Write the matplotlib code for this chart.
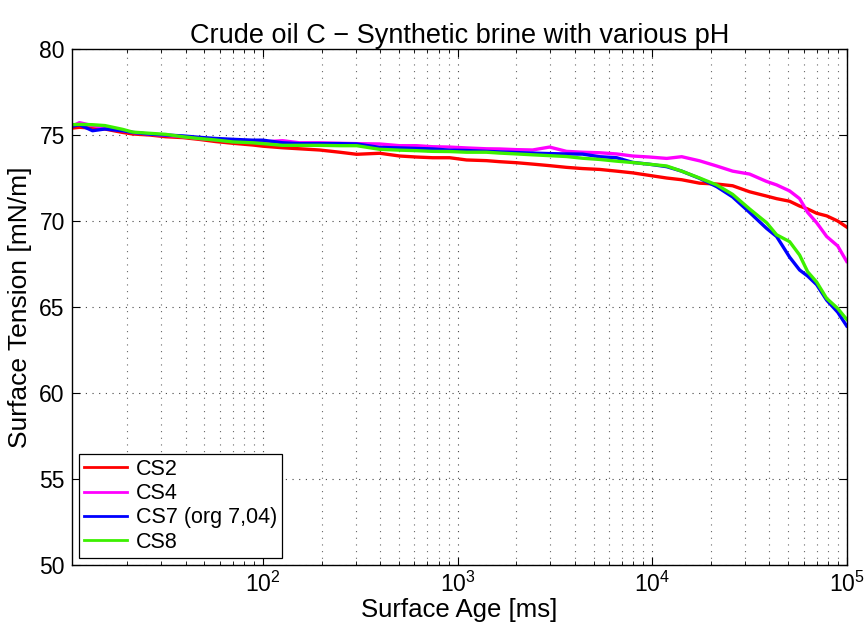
import matplotlib
matplotlib.use("Agg")
import matplotlib.pyplot as plt
from matplotlib.ticker import LogLocator, NullFormatter, FixedLocator
from matplotlib.lines import Line2D

age = [10.4, 11.4, 13.3, 15.4, 19.0, 21.4, 26.2, 31.6, 38.7, 46.7, 57.1, 69.9, 88.5, 100,
       126, 154, 195, 248, 303, 398, 504, 617, 745, 911, 1112, 1409, 1644, 2010, 2430,
       2970, 3630, 4390, 5370, 6570, 7940, 9710, 11880, 14190, 17540, 21460, 25930,
       31700, 38760, 43630, 50900, 57300, 63000, 70100, 78900, 89900, 100000]

cs2 = [75.4, 75.45, 75.4, 75.35, 75.15, 75.06, 75.0, 74.9, 74.85, 74.75, 74.62, 74.52, 74.42,
       74.35, 74.26, 74.2, 74.13, 74.0, 73.88, 73.94, 73.78, 73.72, 73.68, 73.68, 73.55, 73.51,
       73.45, 73.39, 73.31, 73.22, 73.12, 73.05, 73.0, 72.9, 72.8, 72.65, 72.5, 72.4, 72.2,
       72.15, 72.05, 71.7, 71.45, 71.3, 71.15, 70.87, 70.7, 70.45, 70.3, 70.0, 69.65]

cs4 = [75.5, 75.72, 75.55, 75.4, 75.25, 75.15, 75.05, 74.98, 74.9, 74.8, 74.72, 74.62, 74.6,
       74.6, 74.67, 74.55, 74.55, 74.52, 74.5, 74.48, 74.38, 74.38, 74.32, 74.3, 74.25, 74.2,
       74.19, 74.15, 74.13, 74.3, 74.05, 74.0, 73.97, 73.9, 73.78, 73.72, 73.64, 73.74, 73.5,
       73.2, 72.9, 72.73, 72.3, 72.1, 71.75, 71.3, 70.5, 69.9, 69.1, 68.55, 67.65]

cs7 = [75.5, 75.6, 75.25, 75.35, 75.25, 75.15, 75.05, 75.0, 74.95, 74.87, 74.8, 74.75, 74.7,
       74.7, 74.55, 74.5, 74.5, 74.5, 74.48, 74.28, 74.25, 74.22, 74.19, 74.12, 74.1, 74.05,
       74.02, 73.98, 73.95, 73.92, 73.9, 73.89, 73.74, 73.68, 73.41, 73.3, 73.16, 72.9, 72.48,
       72.0, 71.4, 70.5, 69.57, 69.1, 67.9, 67.15, 66.8, 66.3, 65.4, 64.7, 63.9]

cs8 = [75.6, 75.62, 75.6, 75.55, 75.33, 75.17, 75.1, 75.04, 74.9, 74.8, 74.71, 74.6, 74.55,
       74.5, 74.4, 74.4, 74.4, 74.38, 74.38, 74.17, 74.12, 74.09, 74.05, 74.04, 74.0, 74.0,
       73.95, 73.9, 73.85, 73.8, 73.75, 73.65, 73.58, 73.48, 73.4, 73.3, 73.2, 72.9, 72.5,
       72.1, 71.55, 70.7, 69.9, 69.2, 68.8, 68.02, 67.05, 66.45, 65.5, 64.92, 64.28]

labels = ["CS2", "CS4", "CS7 (org 7,04)", "CS8"]
colors = ["#ff0000", "#ff00ff", "#0000ff", "#3cf000"]
series = [cs2, cs4, cs7, cs8]

plt.rcParams['font.family'] = ['Liberation Sans', 'DejaVu Sans']

fig = plt.figure(figsize=(8.66, 6.31), dpi=100)
ax = fig.add_axes([0.0828, 0.1046, 0.8949, 0.8177])

for vals, c in zip(series, colors):
    ax.plot(age, vals, color=c, linewidth=2.4, solid_joinstyle='round')

ax.set_xscale('log')
ax.set_xlim(10.4, 1e5)
ax.set_ylim(50, 80)
ax.set_yticks([50, 55, 60, 65, 70, 75, 80])
ax.xaxis.set_major_locator(FixedLocator([1e2, 1e3, 1e4, 1e5]))
ax.xaxis.set_minor_locator(LogLocator(base=10, subs=range(2, 10), numticks=20))
ax.xaxis.set_minor_formatter(NullFormatter())

ax.grid(True, which='major', color='#444444', linestyle=(0, (1, 5)), linewidth=0.8)
ax.grid(True, which='minor', axis='x', color='#666666', linestyle=(0, (1, 5)), linewidth=0.8)

ax.tick_params(which='both', direction='in', top=True, right=True, labelsize=16.5)
ax.tick_params(which='major', length=6, width=0.8)
ax.tick_params(which='minor', length=3, width=0.6)
ax.tick_params(axis='x', which='major', pad=5)
ax.tick_params(axis='y', which='major', pad=5)
for s in ax.spines.values():
    s.set_linewidth(1.0)

ax.set_title("Crude oil C \u2212 Synthetic brine with various pH", fontsize=19.5, pad=3)
ax.set_xlabel("Surface Age [ms]", fontsize=18.5, labelpad=0.5)
ax.set_ylabel("Surface Tension [mN/m]", fontsize=19, labelpad=5)

handles = [Line2D([0], [0], color=c, linewidth=2.0) for c in colors]
leg = ax.legend(handles, labels, loc='lower left', bbox_to_anchor=(0.009, 0.0136),
                prop={'size': 15.5}, frameon=True, fancybox=False, framealpha=1,
                edgecolor='black', handlelength=2.0, handletextpad=0.4,
                labelspacing=0.15, borderpad=0.25, borderaxespad=0.0)
leg.get_frame().set_linewidth(0.9)

fig.savefig("out.png", dpi=100)
